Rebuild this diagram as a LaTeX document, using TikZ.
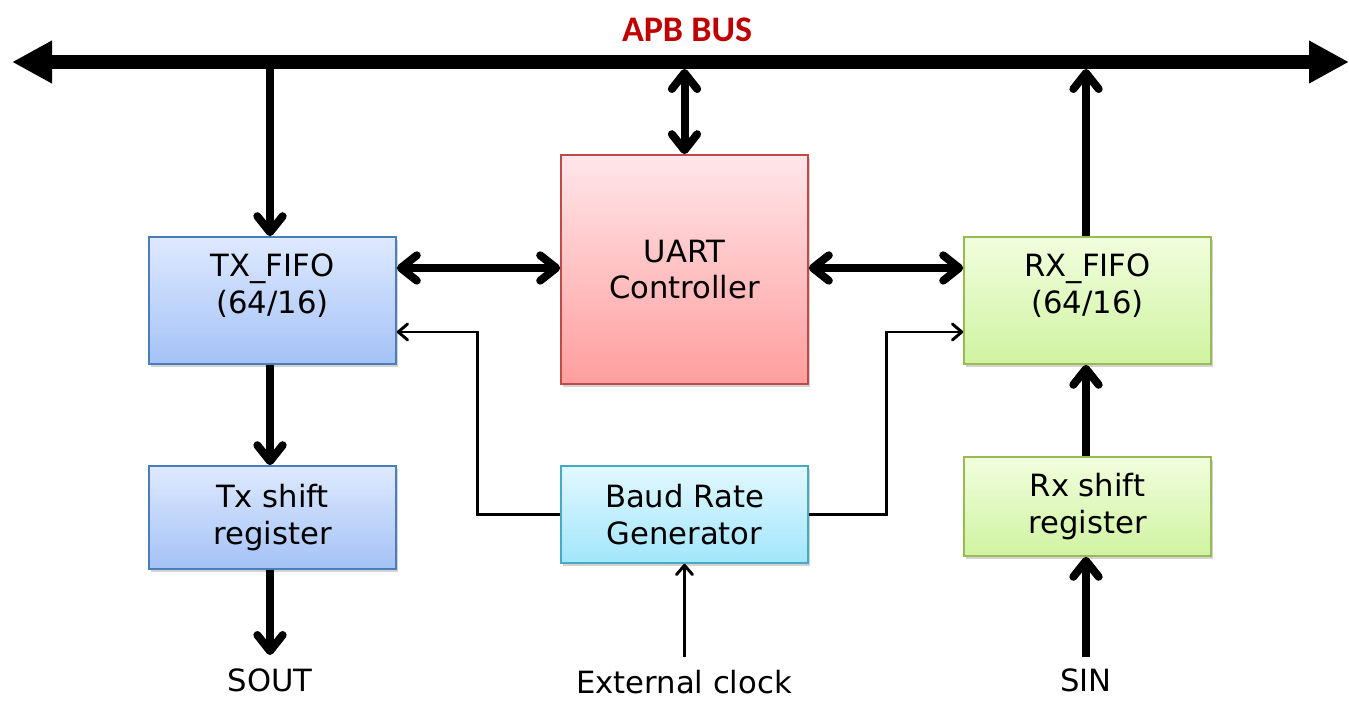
\documentclass[tikz,border=0pt]{standalone}
\usepackage{fontspec}
\setmainfont{DejaVu Sans}
\newfontfamily\titlefont{Carlito}
\usetikzlibrary{arrows.meta,shadows}
\definecolor{txtop}{HTML}{DEE9FE}
\definecolor{txbot}{HTML}{A4C2F6}
\definecolor{txline}{HTML}{4A7EBB}
\definecolor{uatop}{HTML}{FFE6E9}
\definecolor{uabot}{HTML}{FF9E9E}
\definecolor{ualine}{HTML}{BE4B48}
\definecolor{rxtop}{HTML}{F1FEDE}
\definecolor{rxbot}{HTML}{D0F3A1}
\definecolor{rxline}{HTML}{98B954}
\definecolor{bdtop}{HTML}{E2F8FF}
\definecolor{bdbot}{HTML}{A2E6FB}
\definecolor{bdline}{HTML}{46AAC5}
\definecolor{busred}{HTML}{C00000}
\tikzset{
  blockbox/.style={line width=1.2pt, inner sep=0pt, align=center,
    minimum width=185.25pt,
    font=\fontsize{23}{27.5}\selectfont,
    drop shadow={opacity=0.35, shadow xshift=1.5pt, shadow yshift=-2.5pt}},
  bluebox/.style={blockbox, draw=txline, top color=txtop, bottom color=txbot},
  redbox/.style={blockbox, draw=ualine, top color=uatop, bottom color=uabot},
  greenbox/.style={blockbox, draw=rxline, top color=rxtop, bottom color=rxbot},
  cyanbox/.style={blockbox, draw=bdline, top color=bdtop, bottom color=bdbot},
  fifolabel/.style={font=\fontsize{23}{27.5}\selectfont, align=center, inner sep=0pt},
  busline/.style={line width=10pt, {Triangle[length=30pt,width=30pt]}-{Triangle[length=30pt,width=30pt]}},
  thickhead/.tip={Straight Barb[length=12pt,width=19pt,line join=round,line cap=round]},
  thinhead/.tip={Straight Barb[length=7pt,width=12pt,line join=round,line cap=round]},
  thickarrow/.style={line width=6pt, -thickhead},
  thickboth/.style={line width=6pt, thickhead-thickhead},
  thinarrow/.style={line width=2.2pt, -thinhead},
  extlabel/.style={font=\fontsize{23}{27.5}\selectfont, inner sep=0pt, anchor=base}
}
\begin{document}
\begin{tikzpicture}[x=0.75pt,y=-0.75pt]
\useasboundingbox (0,0) rectangle (1349,700);
% title
\node[font=\titlefont\bfseries\fontsize{27}{30}\selectfont, text=busred] (title) at (687,30) {APB BUS};
% bus
\coordinate (busL) at (12,62);
\coordinate (busR) at (1349,62);
\coordinate (busTX) at (270,62);
\coordinate (busUA) at (684.5,69);
\coordinate (busRX) at (1086,69);
% blocks
\node[bluebox, minimum height=95.25pt,
      label={[name=txlbl, fifolabel, yshift=10.9pt]center:TX\_FIFO\\(64/16)}] (TX) at (272.5,300.5) {};
\node[bluebox, minimum height=77.25pt] (TXS) at (272.5,517.5) {Tx shift\\register};
\node[redbox, minimum height=171.75pt] (UA) at (684.5,269.5) {UART\\Controller};
\node[greenbox, minimum height=95.25pt,
      label={[name=rxlbl, fifolabel, yshift=10.9pt]center:RX\_FIFO\\(64/16)}] (RX) at (1087.5,300.5) {};
\node[greenbox, minimum height=74.25pt] (RXS) at (1087.5,506.5) {Rx shift\\register};
\node[cyanbox, minimum height=72.75pt] (BD) at (684.5,514.5) {Baud Rate\\Generator};
% bottom labels
\node[extlabel] (sout) at (270,691) {SOUT};
\node[extlabel] (ext) at (684,693) {External clock};
\node[extlabel] (sin) at (1086,691) {SIN};
\coordinate (soutA) at (270,655);
\coordinate (extA) at (684.5,657);
\coordinate (sinA) at (1086,657);
% connector ends
\coordinate (lt) at ([yshift=24.4pt]TX.east);
\coordinate (rt) at ([yshift=24.4pt]RX.west);
\coordinate (lb) at ([yshift=-23.6pt]TX.east);
\coordinate (rb) at ([yshift=-23.6pt]RX.west);
% bus line
\draw[busline] (busL) -- (busR);
% connectors
\draw[thickarrow] (busTX) -- (TX.north -| busTX);
\draw[thickboth] (busUA) -- (UA.north);
\draw[thickarrow] (RX.north -| busRX) -- (busRX);
\draw[thickboth] (lt) -- (lt -| UA.west);
\draw[thickboth] (UA.east |- rt) -- (rt);
\draw[thickarrow] (TX.south -| busTX) -- (TXS.north -| busTX);
\draw[thickarrow] (TXS.south -| busTX) -- (soutA);
\draw[thickarrow] (RXS.north -| busRX) -- (RX.south -| busRX);
\draw[thickarrow] (sinA) -- (RXS.south -| busRX);
\draw[thinarrow] (extA) -- (BD.south);
\draw[thinarrow, line join=miter] (BD.west) -- ++(-83,0) |- (lb);
\draw[thinarrow, line join=miter] (BD.east) -- ++(78,0) |- (rb);
\end{tikzpicture}
\end{document}
